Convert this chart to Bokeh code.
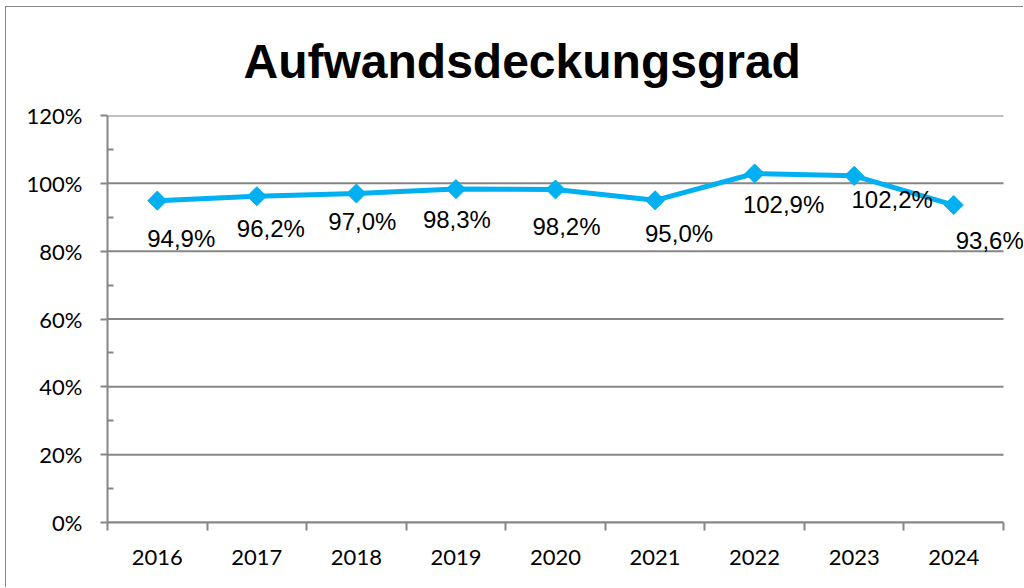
from bokeh.plotting import figure
from bokeh.models import FixedTicker, ColumnDataSource, LabelSet, Range1d
from bokeh.core.properties import value
from bokeh.embed import file_html
from bokeh.resources import INLINE

# ---- data ----
years = ["2016", "2017", "2018", "2019", "2020", "2021", "2022", "2023", "2024"]
values = [94.9, 96.2, 97.0, 98.3, 98.2, 95.0, 102.9, 102.2, 93.6]
y_ticks = [0, 20, 40, 60, 80, 100, 120]
y_minor = [10, 30, 50, 70, 90, 110]
y_tick_labels = ["0%", "20%", "40%", "60%", "80%", "100%", "120%"]
title_text = "Aufwandsdeckungsgrad"

# label placement (pixels, right / down from point)
label_dx = [24, 14, 6, 1, 11, 24, 29, 38, 36]
label_dy = [38, 32, 28, 30, 37, 33, 31, 24, 35]

xs = list(range(len(years)))
labels = [f"{v:.1f}".replace(".", ",") + "%" for v in values]

GRID = "#868686"
BLUE = "#00B0F0"

# layout (pixels)
W, H = 1018, 581
LEFT, TOP, BOTTOM = 101, 108, 66
AXIS_W = 896          # drawn width of the category axis
n = len(years)
px_per_cat = AXIS_W / n
x_start = -0.5
x_axis_end = n - 0.5
x_end = x_axis_end + (W - LEFT - AXIS_W) / px_per_cat

p = figure(width=W, height=H,
           x_range=Range1d(x_start, x_end), y_range=Range1d(0, 120),
           output_backend="svg", toolbar_location=None,
           min_border_left=LEFT, min_border_right=0,
           min_border_top=TOP, min_border_bottom=BOTTOM)
p.margin = (6, 0, 0, 5)
p.styles = {"border-left": "1px solid #868686", "border-top": "1px solid #868686"}
p.background_fill_color = "white"
p.border_fill_color = "white"
p.outline_line_color = None

p.title.text = title_text
p.title.align = "left"
p.title.vertical_align = "top"
p.title.text_font = "Liberation Sans"
p.title.text_font_style = "bold"
p.title.text_font_size = "48px"
p.title.text_color = "black"
p.title.offset = 136
p.title.standoff = 52

# x axis
xa = p.xaxis[0]
xa.bounds = (x_start, x_axis_end)
xa.ticker = FixedTicker(ticks=xs, minor_ticks=[i - 0.5 for i in range(n + 1)])
xa.major_label_overrides = {i: y for i, y in zip(xs, years)}
xa.major_tick_out = 0
xa.major_tick_in = 0
xa.minor_tick_out = 8
xa.minor_tick_in = 0
xa.minor_tick_line_color = GRID
xa.minor_tick_line_width = 2
xa.axis_line_color = GRID
xa.axis_line_width = 2
xa.major_label_text_font = "Lato"
xa.major_label_text_font_size = "22px"
xa.major_label_text_color = "black"
xa.major_label_standoff = 19

# y axis
ya = p.yaxis[0]
ya.ticker = FixedTicker(ticks=y_ticks, minor_ticks=y_minor)
ya.major_label_overrides = {t: l for t, l in zip(y_ticks, y_tick_labels)}
ya.major_tick_out = 7
ya.major_tick_in = 0
ya.minor_tick_out = 0
ya.minor_tick_in = 6
ya.major_tick_line_color = GRID
ya.minor_tick_line_color = GRID
ya.major_tick_line_width = 2
ya.minor_tick_line_width = 2
ya.axis_line_color = GRID
ya.axis_line_width = 2
ya.major_label_text_font = "Lato"
ya.major_label_text_font_size = "22px"
ya.major_label_text_color = "black"
ya.major_label_standoff = 18

p.xgrid.visible = False
p.ygrid.visible = False

# horizontal gridlines limited to the category axis extent
p.segment(x0=[x_start] * len(y_ticks), x1=[x_axis_end] * len(y_ticks),
          y0=y_ticks, y1=y_ticks, line_color=GRID, line_width=2)

p.line(xs, values, line_color=BLUE, line_width=5)
p.scatter(xs, values, marker="square", angle=0.7854, size=13.5,
          fill_color=BLUE, line_color=BLUE)

src = ColumnDataSource(dict(x=xs, y=values, text=labels,
                            dx=label_dx, dy=[-d for d in label_dy]))
p.add_layout(LabelSet(x="x", y="y", text="text", source=src,
                      x_offset="dx", y_offset="dy",
                      text_align="center", text_baseline="middle",
                      text_font=value("Liberation Sans"),
                      text_font_size="24px", text_color="black"))

open("out.html", "w").write(file_html(p, INLINE))
